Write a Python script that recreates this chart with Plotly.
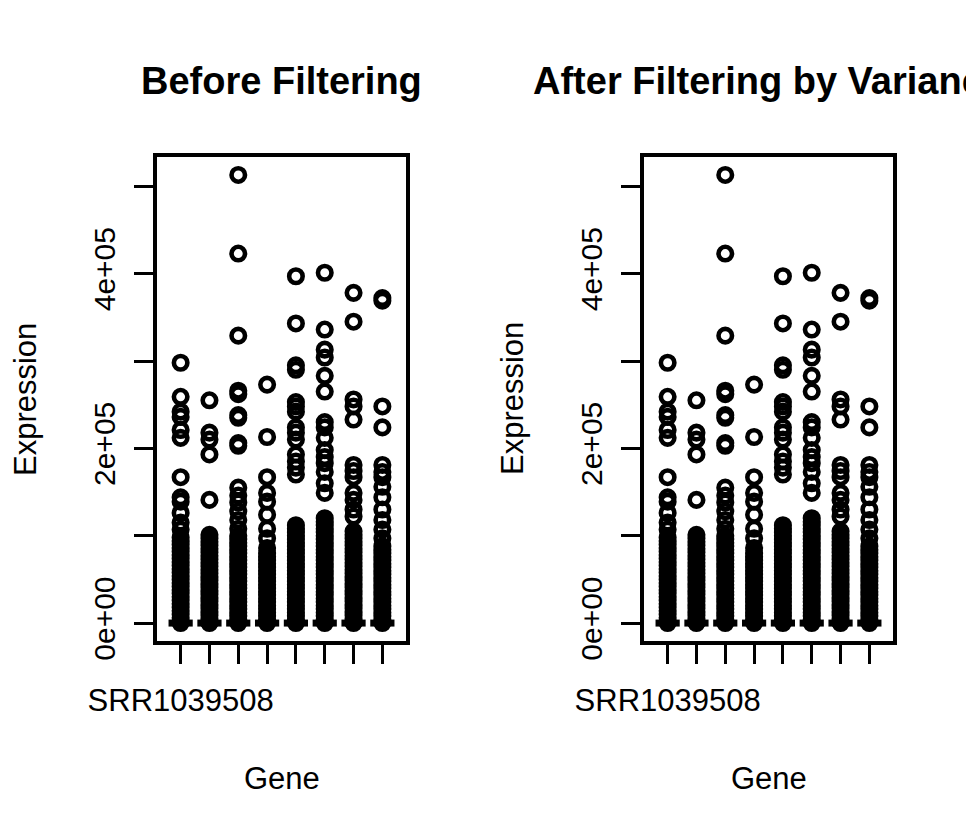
import plotly.graph_objects as go

# ---- data (expression values, in thousands) ----
samples = ["SRR1039508", "SRR1039509", "SRR1039512", "SRR1039513",
           "SRR1039516", "SRR1039517", "SRR1039520", "SRR1039521"]
shown_tick_labels = ["SRR1039508", "", "", "", "", "", "", ""]

s1_k = [298, 259, 242, 236, 221, 212, 167, 144, 139, 126, 115, 107,
        98, 94, 90, 86, 82, 78, 74, 70, 66, 62, 58, 54, 50, 46, 42, 38, 34, 30, 26, 22, 18, 14, 10, 6, 2, 0]
s2_k = [255, 218, 210, 193, 141,
        101, 97, 93, 89, 85, 81, 77, 73, 69, 65, 61, 57, 53, 49, 45, 41, 37, 33, 29, 25, 21, 17, 13, 9, 5, 1, 0]
s3_k = [513, 423, 329, 266, 262, 238, 235, 206, 203, 155, 146, 138, 128, 118, 108,
        100, 96, 92, 88, 84, 80, 76, 72, 68, 64, 60, 56, 52, 48, 44, 40, 36, 32, 28, 24, 20, 16, 12, 8, 4, 0]
s4_k = [273, 213, 167, 149, 139, 124, 108, 97, 86,
        80, 76, 72, 68, 64, 60, 56, 52, 48, 44, 40, 36, 32, 28, 24, 20, 16, 12, 8, 4, 0]
s5_k = [397, 343, 295, 290, 253, 248, 242, 224, 218, 210, 193, 185, 178, 170,
        112, 108, 104, 100, 96, 92, 88, 84, 80, 76, 72, 68, 64, 60, 56, 52, 48, 44, 40, 36, 32, 28, 24, 20, 16, 12, 8, 4, 0]
s6_k = [401, 336, 313, 304, 283, 265, 230, 224, 212, 198, 190, 183, 173, 160, 149,
        120, 116, 112, 108, 104, 100, 96, 92, 88, 84, 80, 76, 72, 68, 64, 60, 56, 52, 48, 44, 40, 36, 32, 28, 24, 20, 16, 12, 8, 4, 0]
s7_k = [378, 345, 256, 248, 233, 181, 174, 167, 149, 141, 130, 122,
        105, 101, 97, 93, 89, 85, 81, 77, 73, 69, 65, 61, 57, 53, 49, 45, 41, 37, 33, 29, 25, 21, 17, 13, 9, 5, 1, 0]
s8_k = [372, 369, 248, 224, 181, 173, 167, 156, 144, 130, 118, 107, 97,
        88, 84, 80, 76, 72, 68, 64, 60, 56, 52, 48, 44, 40, 36, 32, 28, 24, 20, 16, 12, 8, 4, 0]

before_k = [s1_k, s2_k, s3_k, s4_k, s5_k, s6_k, s7_k, s8_k]
after_k = before_k  # filtered matrix looks identical in the picture

# collapsed boxes: median / quartiles read as zero for every sample
box_medians_k = [0, 0, 0, 0, 0, 0, 0, 0]

y_tick_vals = [0, 100000, 200000, 300000, 400000, 500000]
y_tick_text = ["0e+00", "", "2e+05", "", "4e+05", ""]

titles = ["Before Filtering", "After Filtering by Variance"]
x_title = "Gene"
y_title = "Expression"

# ---- figure ----
W, H = 974, 838
OFF = 8  # page body margin offset
FONT = "Liberation Sans, Arial, Helvetica, sans-serif"
fig = go.Figure()


def px_x(p):
    return (p - OFF) / W


def px_y(p):
    return 1 - (p - OFF) / H


panels = [before_k, after_k]
x_domains = [[px_x(157), px_x(406)], [px_x(644), px_x(893)]]
y_domain = [px_y(641), px_y(157)]

all_vals = [v * 1000 for panel in panels for grp in panel for v in grp]
ymax = max(all_vals)
ymin = min(all_vals)
pad = 0.04 * (ymax - ymin)
y_range = [ymin - pad, ymax + pad]
n = len(samples)
x_range = [0.5 - 0.04 * n, n + 0.5 + 0.04 * n]

for p, panel in enumerate(panels):
    xa = "x" if p == 0 else "x2"
    ya = "y" if p == 0 else "y2"
    bx, by = [], []
    for i, med in enumerate(box_medians_k):
        bx += [i + 1 - 0.42, i + 1 + 0.42, None]
        by += [med * 1000, med * 1000, None]
    fig.add_trace(go.Scatter(x=bx, y=by, mode="lines", xaxis=xa, yaxis=ya,
                             line=dict(color="black", width=7), showlegend=False,
                             hoverinfo="skip"))
    for i, grp in enumerate(panel):
        fig.add_trace(go.Scatter(
            x=[i + 1] * len(grp), y=[v * 1000 for v in grp],
            mode="markers", xaxis=xa, yaxis=ya, showlegend=False,
            marker=dict(symbol="circle-open", size=13.5, color="black",
                        line=dict(color="black", width=4.6)),
        ))

axis_common = dict(showline=True, mirror=True, linecolor="black", linewidth=3.5,
                   showgrid=False, zeroline=False, ticks="outside", ticklen=19,
                   tickwidth=2.5, tickcolor="black", automargin=False,
                   tickfont=dict(family=FONT, size=31, color="black"))

layout = dict(
    template="none",
    width=W, height=H, margin=dict(l=0, r=0, t=0, b=0, pad=0),
    paper_bgcolor="white", plot_bgcolor="white", showlegend=False,
    font=dict(family=FONT, color="black"),
)
for p in range(2):
    sx = "" if p == 0 else "2"
    layout["xaxis" + sx] = dict(axis_common, domain=x_domains[p], range=x_range,
                                anchor="y" + sx, tickmode="array",
                                tickvals=list(range(1, n + 1)), ticktext=shown_tick_labels,
                                ticklabelstandoff=10)
    layout["yaxis" + sx] = dict(axis_common, domain=y_domain, range=y_range,
                                anchor="x" + sx, tickmode="array",
                                tickvals=y_tick_vals, ticktext=y_tick_text,
                                tickangle=-90, ticklabelstandoff=7,
                                tickfont=dict(family=FONT, size=30, color="black"))
fig.update_layout(**layout)

annotations = []
for p in range(2):
    cx = (x_domains[p][0] + x_domains[p][1]) / 2
    annotations.append(dict(text="<b>" + titles[p] + "</b>", x=cx, y=px_y(81),
                            xref="paper", yref="paper", showarrow=False,
                            xanchor="center", yanchor="middle",
                            font=dict(family=FONT, size=38, color="black")))
    annotations.append(dict(text=x_title, x=cx, y=px_y(778),
                            xref="paper", yref="paper", showarrow=False,
                            xanchor="center", yanchor="middle",
                            font=dict(family=FONT, size=31, color="black")))
    annotations.append(dict(text=y_title, x=x_domains[p][0] - 132 / W,
                            y=(y_domain[0] + y_domain[1]) / 2,
                            xref="paper", yref="paper", showarrow=False, textangle=-90,
                            xanchor="center", yanchor="middle",
                            font=dict(family=FONT, size=31, color="black")))
fig.update_layout(annotations=annotations)

fig.write_html("out.html")
